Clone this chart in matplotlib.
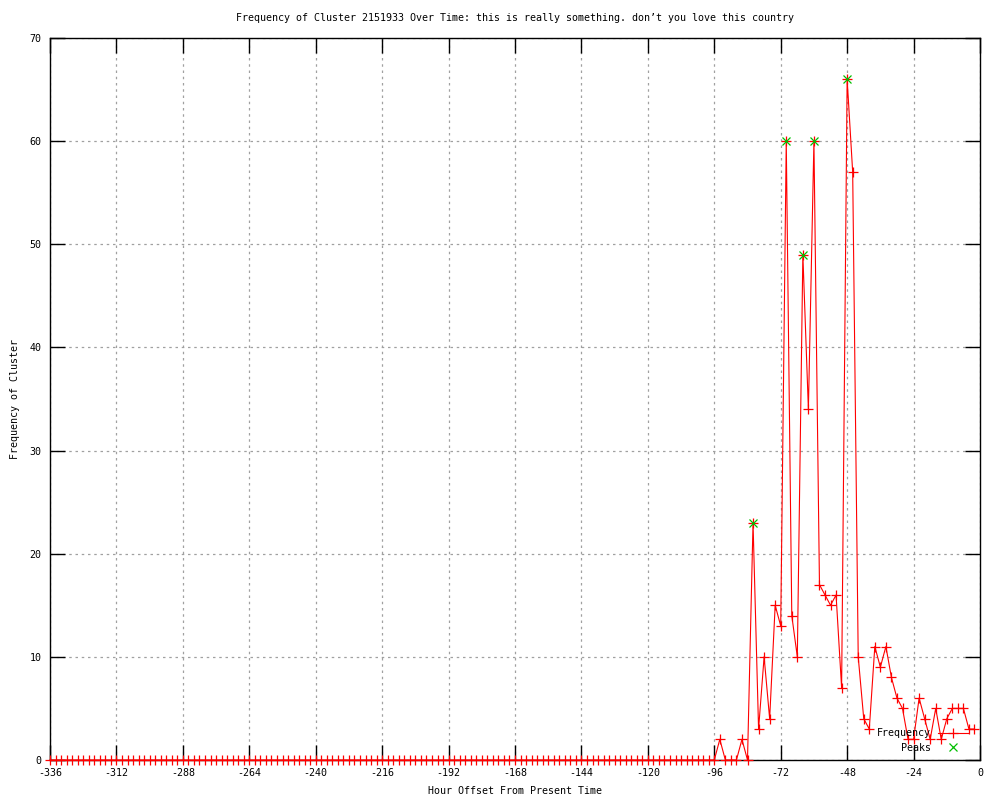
import matplotlib
matplotlib.use('Agg')
import matplotlib.pyplot as plt

plt.rcParams['font.family'] = ['DejaVu Sans Mono', 'DejaVu Sans']
plt.rcParams['font.size'] = 7.2
plt.rcParams['axes.unicode_minus'] = False

# hour offsets, one sample every 2 hours
hours = list(range(-336, 0, 2))
# frequency per sample: flat zero until -96, then the burst
freq = [0] * 121 + [
    2, 0, 0, 0, 2, 0, 23, 3, 10, 4, 15, 13, 60, 14, 10, 49, 34, 60,
    17, 16, 15, 16, 7, 66, 57, 10, 4, 3, 11, 9, 11, 8, 6, 5, 2, 2,
    6, 4, 2, 5, 2, 4, 5, 5, 5, 3, 3]

# detected peaks
peak_hours = [-82, -70, -64, -60, -48]
peak_vals = [freq[hours.index(h)] for h in peak_hours]

xticks = list(range(-336, 1, 24))
yticks = list(range(0, 71, 10))

fig = plt.figure(figsize=(10, 8), dpi=100)
ax = fig.add_axes([0.05, 0.05, 0.93, 0.9025])

ax.plot(hours, freq, color='#ff0000', linewidth=0.8, marker='+',
        markersize=7, markeredgewidth=0.9, label='Frequency', clip_on=False,
        zorder=3)
ax.plot(peak_hours, peak_vals, linestyle='none', color='#00c000',
        marker='x', markersize=5.5, markeredgewidth=0.9, label='Peaks',
        zorder=4)

ax.set_xlim(-336, 0)
ax.set_ylim(0, 70)
ax.set_xticks(xticks)
ax.set_yticks(yticks)
ax.tick_params(direction='in', length=11, width=1, top=True, right=True,
               colors='black', pad=6)
ax.grid(True, linestyle=(0, (2, 3)), color='#a0a0a0', linewidth=0.9)
for s in ax.spines.values():
    s.set_linewidth(1)

ax.set_title('Frequency of Cluster 2151933 Over Time: this is really something. '
             'don\u2019t you love this country', fontsize=7.2, pad=12)
ax.set_xlabel('Hour Offset From Present Time')
ax.set_ylabel('Frequency of Cluster')
ax.xaxis.set_label_coords(0.5, -0.036)
ax.yaxis.set_label_coords(-0.032, 0.5)

ax.legend(loc='lower right', bbox_to_anchor=(0.9873, 0.01), frameon=False,
          markerfirst=False, handlelength=3.0, handletextpad=0.7,
          labelspacing=0.45, borderpad=0, borderaxespad=0)

fig.savefig('out.png', dpi=100)
